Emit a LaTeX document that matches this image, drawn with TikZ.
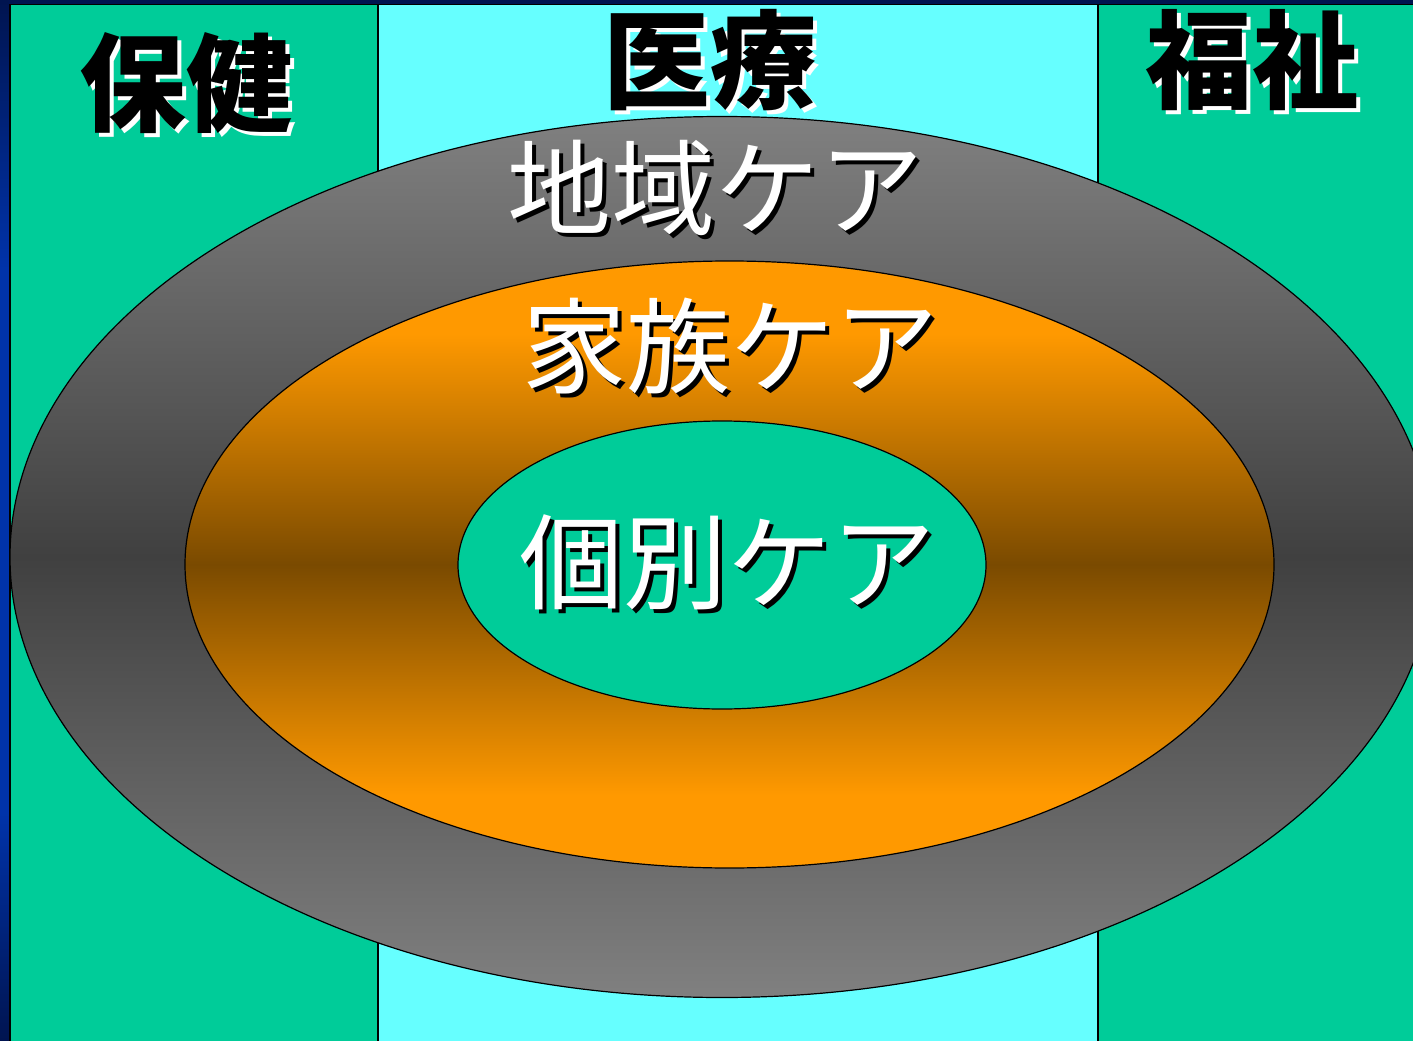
\documentclass[tikz,border=0pt]{standalone}
\usepackage{fontspec}
\newfontfamily\jp{Noto Sans CJK JP}
\usetikzlibrary{shapes.geometric}
\definecolor{grn}{RGB}{0,204,153}
\definecolor{cyn}{RGB}{102,255,255}
\definecolor{gtop}{RGB}{128,128,128}
\definecolor{gmid}{RGB}{64,64,64}
\definecolor{otop}{RGB}{255,153,0}
\definecolor{omid}{RGB}{122,74,0}
\definecolor{navy}{RGB}{0,20,80}
\definecolor{blu}{RGB}{0,51,170}
\pgfdeclareverticalshading{grayband}{100bp}{color(0bp)=(gtop); color(25bp)=(gtop); color(50bp)=(gmid); color(75bp)=(gtop); color(100bp)=(gtop)}
\pgfdeclareverticalshading{orangeband}{100bp}{color(0bp)=(otop); color(25bp)=(otop); color(31bp)=(otop); color(50bp)=(omid); color(69bp)=(otop); color(75bp)=(otop); color(100bp)=(otop)}
\pgfdeclareverticalshading{blueside}{100bp}{color(0bp)=(navy); color(25bp)=(navy); color(36bp)=(blu); color(62bp)=(blu); color(75bp)=(navy); color(100bp)=(navy)}
\tikzset{
  colbox/.style={draw=black, line width=0.9pt},
  ring/.style={ellipse, draw=black, line width=0.9pt, inner sep=0pt},
  bigtxt/.style={font=\jp\bfseries\fontsize{80}{80}\selectfont, inner sep=0pt},
  midtxt/.style={font=\jp\fontsize{78}{78}\selectfont, inner sep=0pt},
}
\begin{document}
\begin{tikzpicture}[x=0.75pt,y=-0.75pt]
\useasboundingbox (0,0) rectangle (1413,1041);
\begin{scope}
\clip (0,0) rectangle (1413,1041);
\fill[navy] (0,0) rectangle (1413,1041);
\shade[shading=blueside] (0,0) rectangle (10,1041);
\fill[navy] (0,0) rectangle (1413,4);
\draw[colbox, fill=grn] (10,4.5) rectangle (378,1050);
\draw[colbox, fill=cyn] (378,4.5) rectangle (1098,1050);
\draw[colbox, fill=grn] (1098,4.5) rectangle (1420,1050);
% rings
\node[ring, shading=grayband, minimum width=1068pt, minimum height=660.75pt] (outer) at (722,557) {};
\node[ring, shading=orangeband, minimum width=816.75pt, minimum height=455.25pt] (middle) at (729.5,564.5) {};
\node[ring, fill=grn, minimum width=396pt, minimum height=216pt] (inner) at (722,565) {};
\end{scope}
% column titles: black with white shadow
\node[bigtxt, white] (hoken-s) at (190,87) {保健};
\node[bigtxt, black] (hoken) at (186,83) {保健};
\node[bigtxt, white] (iryo-s) at (714,64) {医療};
\node[bigtxt, black] (iryo) at (710,60) {医療};
\node[bigtxt, white] (fukushi-s) at (1256,64) {福祉};
\node[bigtxt, black] (fukushi) at (1252,60) {福祉};
% ring titles: white with black shadow
\node[midtxt, black] (chiiki-s) at (719,192) {地域ケア};
\node[midtxt, white] (chiiki) at (715,188) {地域ケア};
\node[midtxt, black] (kazoku-s) at (734,350) {家族ケア};
\node[midtxt, white] (kazoku) at (730,346) {家族ケア};
\node[midtxt, black] (kobetsu-s) at (731,566) {個別ケア};
\node[midtxt, white] (kobetsu) at (727,562) {個別ケア};
\end{tikzpicture}
\end{document}
